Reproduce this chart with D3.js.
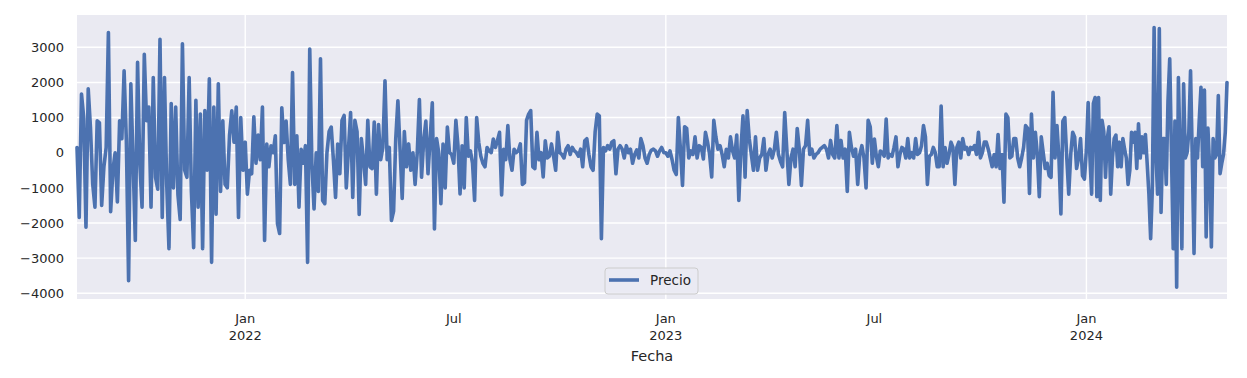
<!DOCTYPE html>
<html>
<head>
<meta charset="utf-8">
<script src="https://cdn.jsdelivr.net/npm/d3@7"></script>
<style>
  body { margin: 0; background: #ffffff; }
  text { font-family: "DejaVu Sans", sans-serif; fill: #262626; }
</style>
</head>
<body>
<div id="chart"></div>
<script>
// periods the values are spread over (daily-ish differences of the price)
const periods = [
    ["2021-08-08", "2022-01-01"],
    ["2022-01-01", "2022-07-01"],
    ["2022-07-01", "2023-01-01"],
    ["2023-01-01", "2023-07-01"],
    ["2023-07-01", "2024-01-01"],
    ["2024-01-01", "2024-05-02"]
];

const precio2021 = [150, -1840, 1670, 1000, -2120, 1820, 720, -890, -1550, 910, 850, -1500, -400, 150, 3420, -1680, -500, 0, -1400, 910,
    400, 2330, 350, -3640, 1960, -250, -2500, 2570, -300, -1550, 2800, 910, 1300, -1550, 2140, -700, -1040, 3230, -1840, 2140,
    -900, -2730, 1400, -1000, 1300, -1200, -1900, 3100, -500, -700, 2140, -1100, -2700, 1490, -1550, 1100, -2730, 1200, -500, 2100,
    -3120, 1300, -1750, 1960, -1100, 910, -900, -1000, 500, 1190, 300, 1300, -1840, 1000, -500];

const precio2022a = [300, -1180, -500, -600, 1020, -300, 500, -200, 1300, -2500,
    250, -400, 200, 0, 480, -2020, -2300, 1280, 290, 900, -200, -900, 2280, -900, 480, -1550, 100, -300, 200, -3120,
    2950, -300, -1600, 0, -1100, 2670, -1360, -1450, 0, 600, 730, -200, -1270, 250, -600, 920, 1060, -1000, 100, 1140,
    -1270, 920, 600, -1760, 400, -200, -900, 920, -400, -450, 870, -1180, 800, -200, 150, 2050, -200, 150, -1930, -1660,
    400, 1480, 100, -1300, 600, -400, 250, -500, 0, -900, 0, 1510, -700, 350, 900, -600, 400, 1420, -2170, 400,
    0, -1450, 250, -1000, 730, 0, -50];

const precio2022b = [-300, 920, 200, -1170, 200, -1000, 1000, -100, 50, -300, -1360, 1000, 290, -100, -300, -400, 150, 50, 0, 390,
    150, 350, 580, -1200, 100, -200, 770, -200, -500, 100, 0, 50, 250, -900, -850, 920, 1100, 1200, -400, -450,
    580, -200, 0, -690, 340, -150, -100, 250, -100, -500, 580, 0, -50, -150, 100, 200, -50, 150, 50, 0,
    -100, 100, -400, 340, 400, -50, -400, -500, 600, 1100, 1050, -2450, 150, 50, 200, 100, 300, 340, -600, 100,
    200, 100, -150, 200, 0, 100, -300, -50, 80, -150, 400, 200, -150, -300, -50, 70, 100, 50, -100, 50, 150, 0];

const precio2023a = [0, -100, 50, -200, -500, -620, 1000, 100, -930, 740, 690, -150, 50, -50, 450, -150, 200, 150, -180, 580,
    300, -50, -690, 920, 450, 100, 200, -50, -400, 100, -150, 450, 50, -150, 500, -1360, 100, 1050, -700, 1200,
    400, -50, -500, 450, -500, -150, -50, 400, -500, -50, 100, -150, 80, 580, -50, -250, -400, 1140, 100, -900,
    -150, 100, -400, 690, 100, -930, 100, 200, 920, -50, 100, -150, -50, 0, 100, 150, 200, 100, -150, 350,
    -50, -150, 770, -150, 350, -150, 100, -1100, 580, 150, -100, 100, -900, -50, 200, -150, -1000, 920, 740, -300];

const precio2023b = [390, -100, -400, 50, 0, -100, 960, -150, -50, -100, 150, 450, -400, -50, 150, 100, -150, 400, -150, 0,
    -150, 400, -50, 0, 200, 770, 450, -900, -100, -50, 150, 0, -400, -400, 1330, -400, 150, -300, -50, 300,
    150, -900, 150, 300, -150, 400, 100, 150, -50, 150, 100, 200, -50, 580, -150, 0, 300, 300, 100, -150,
    -400, -50, -400, 520, -450, -50, -1410, 1100, 1000, -150, -100, 400, 400, -150, -400, -150, 150, 770, 700, -1160,
    1100, -150, 580, -50, -1250, 450, 0, -450, -300, -650, -700, 1720, -150, 770, -150, -1740, 900, 1000, -150, -1180,
    -50, 580, 450, -450, -150, 400, -650, -750];

const precio2024 = [100, 1430, -100, -1180, 1400, 1570, -1250, 1570, -1360, 920, 600, -700, 400, 740, -1180, -150, 400, 500, -400, 300,
    -400, 400, 100, -150, -900, -500, 580, 300, 580, -450, 820, -150, 450, 0, 520, -300, -1180, -2450, -1000, 3560,
    0, -1180, 3530, -1700, 400, 400, -900, 1480, 2670, 0, -2730, 900, -3830, 2140, -150, -2730, 1960, -150, 0, 580,
    2330, -150, -2870, 400, -150, 920, 1860, -400, 1780, -2400, 700, -400, -2680, 400, -150, -50, 1630, -600, -300, -50,
    580, 2000];

const seriesName = "Precio";
const yTicks = [-4000, -3000, -2000, -1000, 0, 1000, 2000, 3000];
const xTickDates = ["2022-01-01", "2022-07-01", "2023-01-01", "2023-07-01", "2024-01-01"];
const xTickLabels = [["Jan", "2022"], ["Jul"], ["Jan", "2023"], ["Jul"], ["Jan", "2024"]];
const xGridDates = ["2022-01-01", "2023-01-01", "2024-01-01"];
const xLabel = "Fecha";

function drawChart() {

    const width = 1247;
    const height = 378;
    const margin = {top: 15, right: 20, bottom: 79, left: 77};
    const innerW = width - margin.left - margin.right;
    const innerH = height - margin.top - margin.bottom;

    const parseDate = d3.utcParse("%Y-%m-%d");

    // spread each chunk of values evenly over its period
    const chunks = [precio2021, precio2022a, precio2022b, precio2023a, precio2023b, precio2024];
    const data = [];
    chunks.forEach((vals, k) => {
        const t0 = parseDate(periods[k][0]);
        const t1 = parseDate(periods[k][1]);
        const last = k === chunks.length - 1;
        const step = (t1 - t0) / (last ? vals.length - 1 : vals.length);
        vals.forEach((v, i) => data.push({date: new Date(+t0 + i * step), value: v}));
    });

    const svg = d3.select('#chart')
        .append('svg')
        .attr('width', width)
        .attr('height', height);

    const g = svg.append('g')
        .attr('transform', `translate(${margin.left},${margin.top})`);

    const x = d3.scaleUtc()
        .domain(d3.extent(data, d => d.date))
        .range([0, innerW]);

    const y = d3.scaleLinear()
        .domain([-4163, 3919])
        .range([innerH, 0]);

    // axes background
    g.append('rect')
        .attr('width', innerW)
        .attr('height', innerH)
        .attr('fill', '#EAEAF2');

    // grid
    g.selectAll('.hgrid')
        .data(yTicks)
        .enter()
        .append('line')
        .attr('x1', 0)
        .attr('x2', innerW)
        .attr('y1', d => y(d))
        .attr('y2', d => y(d))
        .attr('stroke', '#ffffff')
        .attr('stroke-width', 1.4);

    g.selectAll('.vgrid')
        .data(xGridDates.map(parseDate))
        .enter()
        .append('line')
        .attr('x1', d => x(d))
        .attr('x2', d => x(d))
        .attr('y1', 0)
        .attr('y2', innerH)
        .attr('stroke', '#ffffff')
        .attr('stroke-width', 1.4);

    // y tick labels
    const yAxis = g.append('g')
        .call(d3.axisLeft(y).tickValues(yTicks).tickSize(0).tickPadding(13).tickFormat(d3.format('d')));
    yAxis.select('.domain').remove();
    yAxis.selectAll('text')
        .style('font-size', '13px')
        .attr('fill', '#262626');

    // x tick labels (two lines for January)
    const xt = g.selectAll('.xtick')
        .data(xTickDates.map((d, i) => ({date: parseDate(d), lines: xTickLabels[i]})))
        .enter()
        .append('text')
        .attr('x', d => x(d.date))
        .attr('y', innerH + 24)
        .attr('text-anchor', 'middle')
        .style('font-size', '13px');
    xt.selectAll('tspan')
        .data(d => d.lines.map(l => ({l, xx: x(d.date)})))
        .enter()
        .append('tspan')
        .attr('x', d => d.xx)
        .attr('dy', (d, i) => i === 0 ? 0 : 16.5)
        .text(d => d.l);

    g.append('text')
        .attr('x', innerW / 2)
        .attr('y', innerH + 62)
        .attr('text-anchor', 'middle')
        .style('font-size', '14.5px')
        .text(xLabel);

    // the series
    const line = d3.line()
        .x(d => x(d.date))
        .y(d => y(d.value));

    g.append('path')
        .datum(data)
        .attr('d', line)
        .attr('fill', 'none')
        .attr('stroke', '#4C72B0')
        .attr('stroke-width', 3.6)
        .attr('stroke-linejoin', 'round')
        .attr('stroke-linecap', 'round');

    // legend
    const lg = g.append('g')
        .attr('transform', `translate(${innerW / 2 - 47},${innerH - 31})`);
    lg.append('rect')
        .attr('width', 93)
        .attr('height', 26)
        .attr('rx', 3)
        .attr('fill', '#EAEAF2')
        .attr('fill-opacity', 0.8)
        .attr('stroke', '#cccccc');
    lg.append('line')
        .attr('x1', 4)
        .attr('x2', 34)
        .attr('y1', 12)
        .attr('y2', 12)
        .attr('stroke', '#4C72B0')
        .attr('stroke-width', 3.6);
    lg.append('text')
        .attr('x', 45)
        .attr('y', 17)
        .style('font-size', '13.5px')
        .text(seriesName);
}

drawChart()
</script>
</body>
</html>
